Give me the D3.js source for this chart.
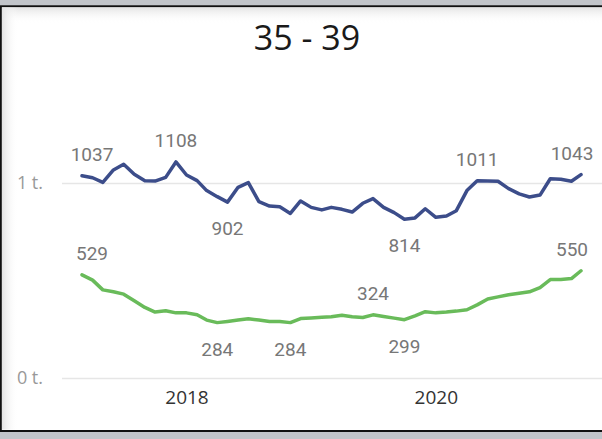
<!DOCTYPE html>
<html lang="en">
<head>
    <meta charset="utf-8">
    <script src="https://d3js.org/d3.v7.min.js"></script>
    <style>
        body { margin: 0; background: #c2c5ca; }
        svg { display: block; }
    </style>
</head>
<body>
    <svg id="chart"></svg>

    <script type="text/javascript" charset="utf-8">
        // monthly values, Mar 2017 .. Mar 2021
        const firstMonth = new Date(2017, 2, 1);
        const lastMonth = new Date(2021, 2, 1);
        const months = d3.timeMonth.range(firstMonth, d3.timeMonth.offset(lastMonth, 1));

        const blueValues = [1037, 1027, 1003, 1067, 1096, 1045, 1012, 1010, 1029, 1108,
            1041, 1012, 961, 930, 902, 978, 1002, 904, 882, 878,
            844, 908, 875, 862, 875, 865, 851, 896, 920, 875,
            848, 814, 821, 868, 824, 831, 858, 961, 1011, 1010,
            1009, 971, 944, 928, 938, 1022, 1019, 1009, 1043];

        const greenValues = [529, 502, 452, 442, 430, 396, 362, 338, 345, 334,
            334, 324, 297, 284, 290, 297, 304, 297, 290, 290,
            284, 305, 308, 312, 314, 322, 314, 310, 324, 315,
            307, 299, 319, 340, 334, 338, 343, 350, 375, 405,
            416, 427, 435, 442, 464, 505, 505, 510, 550];

        // which points get a data label
        const blueLabelIdx = [0, 9, 14, 31, 38, 48];
        const greenLabelIdx = [0, 13, 20, 28, 31, 48];

        const yTicks = [0, 1000];
        const title = "35 - 39";

        const W = 602, H = 439;
        const svg = d3.select("#chart").attr("width", W).attr("height", H);

        // white card with a dark frame
        const defs = svg.append("defs");
        const gTop = defs.append("linearGradient").attr("id", "shTop").attr("x1", 0).attr("y1", 0).attr("x2", 0).attr("y2", 1);
        gTop.append("stop").attr("offset", 0).attr("stop-color", "#e4e4e4");
        gTop.append("stop").attr("offset", 1).attr("stop-color", "#ffffff").attr("stop-opacity", 0);
        const gLeft = defs.append("linearGradient").attr("id", "shLeft").attr("x1", 0).attr("y1", 0).attr("x2", 1).attr("y2", 0);
        gLeft.append("stop").attr("offset", 0).attr("stop-color", "#e4e4e4");
        gLeft.append("stop").attr("offset", 1).attr("stop-color", "#ffffff").attr("stop-opacity", 0);

        svg.append("rect").attr("x", 0.8).attr("y", 6.3).attr("width", 620).attr("height", 424.7)
            .attr("fill", "#ffffff").attr("stroke", "#111").attr("stroke-width", 2);
        svg.append("rect").attr("x", 2).attr("y", 7.5).attr("width", 600).attr("height", 16).attr("fill", "url(#shTop)");
        svg.append("rect").attr("x", 2).attr("y", 7.5).attr("width", 16).attr("height", 422).attr("fill", "url(#shLeft)");

        svg.append("text")
            .attr("x", 307).attr("y", 50)
            .attr("text-anchor", "middle")
            .style("font-family", "'Open Sans', 'Noto Sans', sans-serif")
            .style("font-size", "34px")
            .attr("fill", "#1a1a1a")
            .text(title);

        const x = d3.scaleTime()
            .domain([firstMonth, lastMonth])
            .range([82, 581]);

        const y = d3.scaleLinear()
            .domain([0, 1000])
            .range([378, 183]);

        // gridlines + y labels
        const yAxis = svg.append("g")
            .call(d3.axisLeft(y).tickValues(yTicks).tickSize(0).tickPadding(0)
                .tickFormat(d => (d / 1000) + " t."));
        yAxis.select(".domain").remove();
        yAxis.selectAll("text")
            .attr("x", 43)
            .style("font-family", "'Open Sans', 'Noto Sans', sans-serif")
            .style("font-size", "18px")
            .attr("fill", "#999");
        yAxis.selectAll(".tick").append("line")
            .attr("x1", 62).attr("x2", W)
            .attr("stroke", "#e6e6e6").attr("stroke-width", 1.5);

        // year labels
        const xAxis = svg.append("g")
            .attr("transform", "translate(0,387)")
            .call(d3.axisBottom(x).ticks(d3.timeYear.every(2)).tickSize(0).tickFormat(d3.timeFormat("%Y")));
        xAxis.select(".domain").remove();
        xAxis.selectAll("text")
            .style("font-family", "'Open Sans', 'Noto Sans', sans-serif")
            .style("font-size", "19px")
            .attr("fill", "#333");

        const line = d3.line()
            .x((d, i) => x(months[i]))
            .y(d => y(d));

        const series = [
            { values: blueValues, labels: blueLabelIdx, color: "#3c4d8a" },
            { values: greenValues, labels: greenLabelIdx, color: "#69bb5a" }
        ];

        series.forEach(s => {
            svg.append("path")
                .datum(s.values)
                .attr("fill", "none")
                .attr("stroke", s.color)
                .attr("stroke-width", 3.5)
                .attr("stroke-linejoin", "round")
                .attr("stroke-linecap", "round")
                .attr("d", line);

            svg.selectAll(null)
                .data(s.labels)
                .enter().append("text")
                .attr("x", i => Math.max(92, Math.min(572, x(months[i]))))
                .attr("y", i => {
                    const v = s.values[i];
                    const prev = s.values[i - 1] ?? v;
                    const next = s.values[i + 1] ?? v;
                    const below = v < (prev + next) / 2;
                    return below ? y(v) + 33 : y(v) - 15;
                })
                .attr("text-anchor", "middle")
                .style("font-family", "Roboto, sans-serif")
                .style("font-size", "19px")
                .attr("fill", "#777")
                .text(i => s.values[i]);
        });
    </script>
</body>
</html>
